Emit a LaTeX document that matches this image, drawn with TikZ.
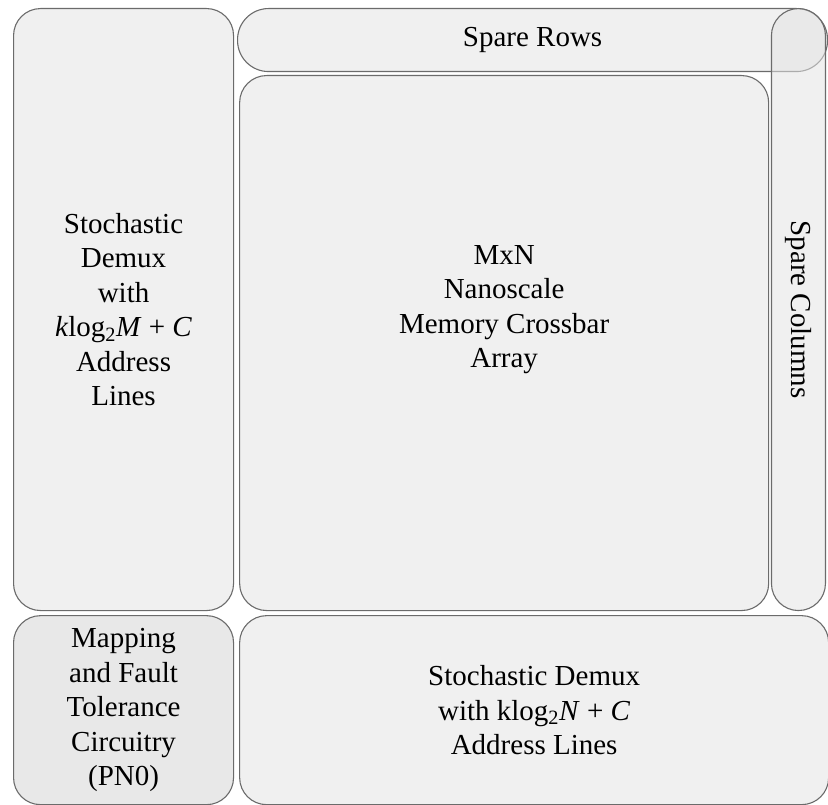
\documentclass[tikz,border=0pt]{standalone}
\usepackage{fontspec}
\setmainfont{Liberation Serif}
\usetikzlibrary{positioning}

\begin{document}
\begin{tikzpicture}[
    x=1pt, y=1pt,
    node distance=4pt,
    % Style definitions
    block/.style={rectangle, rounded corners=27pt, draw=black!58, line width=1.1pt,
                  fill=black!6, align=center, inner sep=0pt,
                  font=\fontsize{29}{34.5}\selectfont},
    spare/.style={block, fill=black!11, fill opacity=0.55, text opacity=1},
    caption/.style={align=center, font=\fontsize{29}{34.5}\selectfont},
]
\useasboundingbox (0,0) rectangle (828,-805);

% Left column: row demux and mapping circuitry
\node[block, anchor=north west, minimum width=220pt, minimum height=602pt] (rowdemux) at (13,-8)
    {Stochastic\\Demux\\with\\\textit{k}log\textsubscript{2}\textit{M} + \textit{C}\\Address\\Lines};
\node[block, fill=black!9, below=4pt of rowdemux, minimum width=220pt, minimum height=189pt] (mapping)
    {Mapping\\and Fault\\Tolerance\\Circuitry\\(PN0)};

% Crossbar array
\node[block, right=5pt of rowdemux.south east, anchor=south west,
      minimum width=529pt, minimum height=535pt] (crossbar) {};
\node[caption] (crossbartxt) at (crossbar.center |- rowdemux.center)
    {MxN\\Nanoscale\\Memory Crossbar\\Array};

% Column demux
\node[block, right=5pt of mapping, minimum width=589pt, minimum height=189pt] (coldemux)
    {Stochastic Demux\\with klog\textsubscript{2}\textit{N} + \textit{C}\\Address Lines};

% Spare rows and columns (overlapping)
\node[spare, rounded corners=31pt, anchor=north west, minimum width=590pt, minimum height=63pt]
    (sparerows) at (237,-8) {Spare Rows};
\node[spare, rounded corners=27pt, anchor=north east, minimum width=54pt, minimum height=602pt]
    (sparecols) at (826,-8) {};
\node[caption, rotate=-90] (sparecolstxt) at (sparecols.center) {Spare Columns};

\end{tikzpicture}
\end{document}
